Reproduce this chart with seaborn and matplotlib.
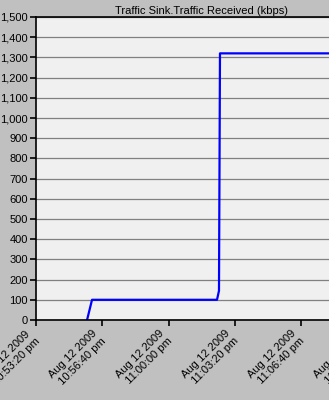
import datetime as dt
import pandas as pd
import matplotlib
matplotlib.use("Agg")
import matplotlib.pyplot as plt
import matplotlib.ticker as mticker
import matplotlib.dates as mdates
import seaborn as sns

# seconds after 10:53:20 pm, and kbps received
t_offsets = [154, 169, 546, 552, 555, 1000]
kbps = [0, 100, 100, 145, 1320, 1320]

tick_offsets = [0, 200, 400, 600, 800, 1000]
y_ticks = list(range(0, 1501, 100))
title = "Traffic Sink.Traffic Received (kbps)"

base = dt.datetime(2009, 8, 12, 22, 53, 20)
df = pd.DataFrame({
    "time": [base + dt.timedelta(seconds=s) for s in t_offsets],
    "kbps": kbps,
})

plt.rcParams['font.family'] = ['Liberation Sans', 'DejaVu Sans']
plt.rcParams['font.size'] = 8

fig = plt.figure(figsize=(3.29, 4.00), dpi=100, facecolor="#c0c0c0")
ax = fig.add_axes([36 / 329, 0.2, 331.5 / 329, 0.7575])
ax.set_facecolor("#f0f0f0")

sns.lineplot(data=df, x="time", y="kbps", ax=ax, color="#0000ff", linewidth=1.6)

ax.set_xlim(base, base + dt.timedelta(seconds=1000))
ax.set_ylim(0, 1500)
ax.set_yticks(y_ticks)
ax.yaxis.set_major_formatter(mticker.FuncFormatter(lambda v, p: f"{int(v):,}"))

tick_times = [base + dt.timedelta(seconds=s) for s in tick_offsets]
ax.set_xticks(tick_times)
ax.set_xticklabels([])
# rotated two-line date labels, placed like the original tool does
for d in tick_times:
    lab = d.strftime("%b %d %Y\n %I:%M:%S ") + d.strftime("%p").lower()
    ax.annotate(lab, xy=(mdates.date2num(d), 0), xycoords=("data", "axes fraction"),
                xytext=(-7.1, -5.5), textcoords="offset points",
                rotation=45, ha="right", va="top", rotation_mode="anchor",
                multialignment="left", fontsize=8, annotation_clip=False)

ax.grid(axis="y", color="#808080", linewidth=0.9)
ax.grid(axis="x", visible=False)
ax.set_axisbelow(True)
ax.set_xlabel("")
ax.set_ylabel("")
for sp in ["left", "bottom", "top"]:
    ax.spines[sp].set_color("black")
    ax.spines[sp].set_linewidth(1.2)
ax.spines["right"].set_visible(False)
ax.tick_params(axis="both", direction="out", length=4, width=1.2, colors="black", labelsize=8, pad=2)
ax.set_title(title, fontsize=8, pad=2)

fig.savefig("out.png", dpi=100, facecolor=fig.get_facecolor())
